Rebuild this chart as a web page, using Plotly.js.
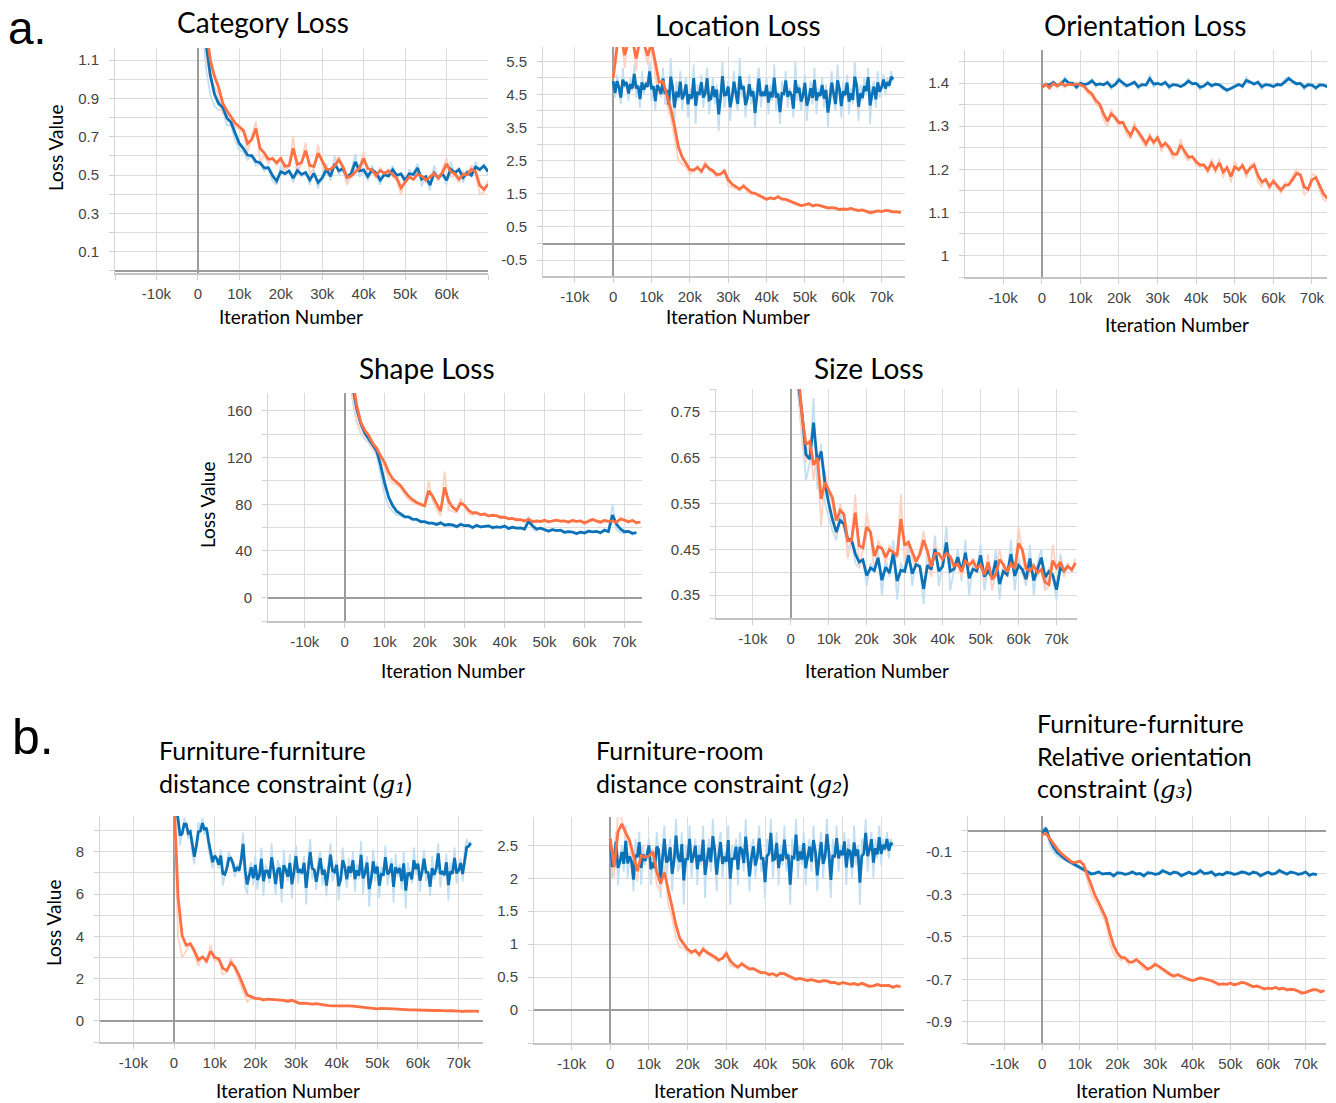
<!DOCTYPE html>
<html>
<head>
<meta charset="utf-8">
<script src="https://cdn.plot.ly/plotly-3.0.1.min.js"></script>
<style>html,body{margin:0;padding:0;background:#fff;}#chart{width:1336px;height:1103px;}</style>
</head>
<body>
<div id="chart"></div>
<script>
// ---------------- DATA ----------------
// most series hold one value every STEP iterations; the noisiest blue runs every FINE_STEP iterations
const STEP = 1000;
const FINE_STEP = 500;
const SMOOTHING = 0.4;

const xTickVals = [-10000, 0, 10000, 20000, 30000, 40000, 50000, 60000, 70000];
const xTickText = ['-10k', '0', '10k', '20k', '30k', '40k', '50k', '60k', '70k'];

// a. Category Loss (STEP)
const catBlue = [1.70,1.30,1.05,0.92,0.86,0.84,0.84,0.76,0.76,0.68,0.63,0.62,0.58,0.60,0.55,0.56,0.52,0.54,0.47,0.45,0.55,0.50,0.53,0.46,0.55,0.49,0.52,0.45,0.53,0.43,0.50,0.56,0.47,0.60,0.50,0.54,0.46,0.52,0.61,0.49,0.53,0.47,0.55,0.50,0.45,0.52,0.49,0.55,0.48,0.51,0.45,0.53,0.50,0.56,0.44,0.50,0.42,0.55,0.47,0.52,0.45,0.57,0.50,0.54,0.46,0.53,0.49,0.57,0.52,0.56,0.50];
const catOrange = [1.80,1.40,1.12,1.00,0.96,0.92,0.82,0.81,0.78,0.75,0.74,0.72,0.62,0.70,0.78,0.57,0.60,0.56,0.59,0.55,0.60,0.52,0.55,0.70,0.50,0.57,0.67,0.50,0.54,0.66,0.55,0.50,0.53,0.56,0.60,0.52,0.45,0.50,0.53,0.55,0.62,0.50,0.52,0.48,0.54,0.50,0.53,0.49,0.47,0.40,0.48,0.51,0.47,0.52,0.49,0.46,0.50,0.52,0.47,0.53,0.59,0.49,0.50,0.46,0.52,0.50,0.55,0.51,0.40,0.41,0.47];
const catYTicks = [0.1, 0.3, 0.5, 0.7, 0.9, 1.1];
const catYText = ['0.1', '0.3', '0.5', '0.7', '0.9', '1.1'];

// a. Location Loss (blue: FINE_STEP, orange: STEP)
const locBlue = [4.9,4.4,5.1,4.6,4.2,5.3,4.7,4.9,4.3,5.0, 4.6,5.4,4.4,4.8,4.1,5.2,4.5,4.9,4.7,5.5, 4.3,4.8,4.0,5.1,4.6,4.4,5.3,4.2,4.7,3.9, 5.6,4.5,3.7,4.9,4.3,5.2,4.0,4.6,5.0,3.8, 4.7,4.3,5.4,3.6,4.8,4.5,5.1,4.1,4.6,5.3, 3.9,4.4,5.0,4.2,4.8,3.4,4.7,5.5,4.1,4.5, 4.9,3.7,4.6,5.2,4.3,4.0,5.6,4.4,4.8,3.8, 4.5,5.1,4.2,4.7,3.5,4.9,5.3,4.1,4.6,4.4, 5.0,3.9,4.8,4.3,5.4,4.0,4.6,3.6,4.9,4.5, 5.2,4.1,4.7,4.4,3.8,5.5,4.3,4.8,4.0,4.6, 5.1,3.7,4.5,4.9,4.2,5.3,3.9,4.7,4.4,5.0, 4.1,4.8,3.5,4.6,5.2,4.3,4.0,5.4,4.5,3.8, 4.9,4.4,5.1,3.9,4.7,4.2,5.5,4.6,3.7,4.8, 4.3,5.0,4.5,5.3,3.6,4.7,4.9,4.1,5.2,4.4, 4.8,5.1,4.5,5.0,4.7,5.2,4.9];
const locOrange = [5.0,6.3,6.5,5.3,6.4,6.2,5.2,6.5,6.0,5.4,6.3,5.0,4.5,4.9,4.2,3.8,3.2,2.5,2.4,2.3,2.1,2.2,2.35,2.1,2.5,2.2,2.15,2.0,2.1,2.25,1.75,1.7,1.65,1.6,1.8,1.55,1.48,1.5,1.42,1.35,1.3,1.4,1.33,1.45,1.3,1.32,1.25,1.2,1.15,1.12,1.18,1.22,1.1,1.18,1.13,1.1,1.05,1.08,1.06,1.0,1.05,1.02,1.08,1.0,0.98,1.03,0.95,0.9,0.97,1.0,0.95,1.02,0.98,0.93,0.96,0.92];
const locYTicks = [-0.5, 0.5, 1.5, 2.5, 3.5, 4.5, 5.5];
const locYText = ['-0.5', '0.5', '1.5', '2.5', '3.5', '4.5', '5.5'];

// a. Orientation Loss (STEP)
const oriBlue = [1.39,1.40,1.395,1.405,1.39,1.40,1.415,1.395,1.40,1.385,1.405,1.395,1.40,1.41,1.39,1.40,1.395,1.405,1.385,1.40,1.415,1.395,1.39,1.40,1.405,1.385,1.40,1.395,1.42,1.39,1.40,1.395,1.405,1.385,1.40,1.395,1.39,1.40,1.41,1.395,1.40,1.385,1.395,1.405,1.39,1.40,1.395,1.385,1.38,1.39,1.395,1.40,1.39,1.415,1.40,1.395,1.405,1.385,1.40,1.395,1.39,1.40,1.395,1.41,1.415,1.40,1.395,1.40,1.385,1.40,1.395,1.385,1.40,1.395,1.39];
const oriOrange = [1.39,1.40,1.385,1.405,1.39,1.405,1.39,1.40,1.395,1.40,1.395,1.39,1.375,1.37,1.35,1.345,1.315,1.30,1.34,1.315,1.30,1.31,1.28,1.27,1.31,1.28,1.265,1.25,1.285,1.255,1.28,1.24,1.265,1.245,1.225,1.235,1.27,1.23,1.22,1.23,1.21,1.205,1.21,1.19,1.225,1.19,1.225,1.18,1.21,1.17,1.22,1.195,1.215,1.18,1.21,1.215,1.17,1.16,1.18,1.15,1.18,1.155,1.145,1.17,1.165,1.185,1.20,1.185,1.14,1.15,1.19,1.185,1.15,1.13,1.125];
const oriYTicks = [1.0, 1.1, 1.2, 1.3, 1.4];
const oriYText = ['1', '1.1', '1.2', '1.3', '1.4'];

// a. Shape Loss (STEP)
const shapeBlue = [230,195,168,150,141,136,133,128,122,105,88,78,74,71,70,68,69,66,67,64,65,63,64,62,65,61,63,62,60,64,61,62,59,63,60,61,62,59,61,60,62,58,61,59,60,58,70,59,57,60,58,56,59,57,58,55,57,56,54,57,55,58,56,57,55,59,56,80,58,56,55,57,54,56];
const shapeOrange = [235,200,172,152,141,139,136,128,125,117,112,102,98,97,94,88,84,82,80,79,78,100,84,76,70,108,75,74,73,85,78,72,71,73,70,72,69,71,70,68,69,67,68,66,67,65,68,64,66,65,67,64,66,67,65,66,64,67,65,66,63,66,68,65,64,67,65,66,64,69,66,64,67,63,65];
const shapeYTicks = [0, 40, 80, 120, 160];
const shapeYText = ['0', '40', '80', '120', '160'];

// a. Size Loss (STEP)
const sizeBlue = [0.95,0.85,0.78,0.70,0.60,0.64,0.78,0.58,0.68,0.55,0.52,0.49,0.47,0.53,0.50,0.45,0.47,0.42,0.41,0.43,0.37,0.42,0.40,0.45,0.35,0.43,0.39,0.47,0.34,0.42,0.40,0.46,0.37,0.43,0.41,0.33,0.45,0.40,0.48,0.37,0.42,0.50,0.36,0.41,0.45,0.38,0.47,0.35,0.42,0.40,0.46,0.36,0.41,0.38,0.45,0.34,0.42,0.39,0.47,0.36,0.43,0.40,0.37,0.46,0.35,0.42,0.45,0.36,0.41,0.39,0.34,0.44,0.40,0.42];
const sizeOrange = [0.97,0.86,0.80,0.68,0.64,0.69,0.60,0.66,0.50,0.62,0.57,0.55,0.48,0.55,0.52,0.43,0.47,0.57,0.41,0.45,0.53,0.48,0.40,0.47,0.45,0.42,0.46,0.44,0.43,0.57,0.42,0.47,0.43,0.41,0.45,0.49,0.43,0.39,0.46,0.44,0.42,0.45,0.43,0.40,0.42,0.39,0.44,0.41,0.43,0.40,0.42,0.38,0.44,0.36,0.40,0.45,0.41,0.39,0.43,0.40,0.50,0.44,0.38,0.40,0.42,0.39,0.41,0.36,0.37,0.46,0.40,0.43,0.39,0.42,0.40,0.43];
const sizeYTicks = [0.35, 0.45, 0.55, 0.65, 0.75];
const sizeYText = ['0.35', '0.45', '0.55', '0.65', '0.75'];

// b. Furniture-furniture distance constraint g1 (blue: FINE_STEP, orange: STEP)
const g1Blue = [10.5,10.0,9.2,8.3,8.9,9.6,9.3,8.6,9.0,7.9, 7.4,8.6,9.4,9.0,9.6,8.8,9.2,8.1,7.6,7.2, 8.0,7.6,7.2,8.1,6.4,6.9,7.4,8.0,7.7,7.3, 6.8,7.4,7.0,7.9,8.9,6.3,6.0,7.2,7.5,6.4, 7.8,6.2,7.0,8.2,5.9,7.4,7.1,6.5,8.4,6.8, 6.0,7.6,7.3,5.6,8.1,7.0,6.6,7.9,5.8,7.4, 8.3,6.5,7.2,6.9,7.8,5.5,7.6,8.6,6.7,7.1, 6.2,7.7,8.0,6.4,7.3,5.9,7.5,8.4,6.6,7.0, 7.6,5.7,6.9,8.2,7.1,6.3,7.7,6.8,8.0,6.1, 7.4,6.7,8.5,6.0,7.2,7.8,5.4,7.0,8.1,6.6, 7.5,5.8,7.3,6.9,8.3,6.4,7.1,7.7,5.6,7.9, 6.8,7.4,6.2,8.0,5.3,7.5,7.0,6.5,8.2,6.9, 7.6,6.1,7.3,8.1,6.6,7.0,5.9,7.8,6.7,7.4, 8.4,6.3,7.1,6.8,7.9,5.7,7.5,6.9,8.2,6.5, 7.2,7.7,6.6,8.1,8.6,8.3,8.5];
const g1Orange = [10.5,4.0,3.0,3.3,3.7,3.1,2.6,3.1,2.7,3.6,2.8,2.9,2.2,2.3,3.0,2.4,1.9,1.4,0.9,1.1,1.0,1.05,0.95,1.05,1.0,0.98,1.02,0.95,0.9,1.0,0.85,0.78,0.85,0.8,0.78,0.82,0.74,0.72,0.7,0.7,0.72,0.68,0.7,0.72,0.68,0.66,0.64,0.65,0.6,0.58,0.55,0.6,0.56,0.54,0.58,0.55,0.52,0.55,0.5,0.52,0.5,0.49,0.53,0.5,0.48,0.5,0.47,0.46,0.5,0.45,0.47,0.44,0.46,0.43,0.47,0.45];
const g1YTicks = [0, 2, 4, 6, 8];
const g1YText = ['0', '2', '4', '6', '8'];

// b. Furniture-room distance constraint g2 (blue: FINE_STEP, orange: STEP)
const g2Blue = [2.6,2.0,2.4,2.7,1.9,2.3,2.5,2.1,2.8,2.0, 2.4,2.2,1.8,2.6,2.3,2.7,1.9,2.5,2.2,2.4, 2.6,1.9,2.3,2.1,2.7,2.4,1.7,2.5,2.8,2.0, 2.3,2.6,1.8,2.4,2.9,2.1,2.2,2.7,1.6,2.5, 2.3,2.8,2.0,2.4,2.6,1.9,2.5,2.2,2.8,1.7, 2.4,2.6,2.1,2.9,2.3,1.8,2.5,2.7,2.0,2.4, 2.2,2.8,1.6,2.5,2.3,2.6,1.9,2.7,2.4,2.1, 2.9,2.2,1.8,2.5,2.6,2.0,2.4,2.8,2.1,2.3, 1.7,2.6,2.4,2.9,2.0,2.3,2.7,1.9,2.5,2.2, 2.8,2.1,2.4,1.6,2.6,2.3,2.9,2.0,2.5,2.2, 2.7,1.9,2.4,2.6,2.1,2.8,2.3,1.8,2.5,2.7, 2.0,2.4,2.9,2.2,1.7,2.6,2.3,2.8,2.1,2.5, 2.3,2.7,1.9,2.6,2.4,2.0,2.8,2.2,2.5,1.6, 2.6,2.4,2.9,2.1,2.5,2.7,2.0,2.6,2.3,2.8, 2.2,2.6,2.4,2.7,2.3,2.6,2.5];
const g2Orange = [2.6,2.0,3.0,2.9,2.6,2.5,2.2,1.95,2.5,2.3,2.35,2.45,1.9,1.8,2.2,1.6,1.4,1.1,0.95,0.95,0.87,0.85,0.92,0.8,0.97,0.85,0.82,0.78,0.73,0.8,0.9,0.68,0.65,0.63,0.73,0.64,0.6,0.63,0.57,0.55,0.57,0.52,0.56,0.5,0.58,0.55,0.5,0.47,0.45,0.49,0.45,0.44,0.47,0.43,0.42,0.46,0.44,0.4,0.42,0.38,0.43,0.4,0.38,0.41,0.37,0.42,0.36,0.35,0.37,0.4,0.36,0.38,0.37,0.33,0.38,0.35];
const g2YTicks = [0, 0.5, 1, 1.5, 2, 2.5];
const g2YText = ['0', '0.5', '1', '1.5', '2', '2.5'];

// b. Furniture-furniture relative orientation constraint g3 (STEP)
const g3Blue = [-0.01,0.02,-0.07,-0.1,-0.12,-0.13,-0.14,-0.15,-0.16,-0.17,-0.18,-0.19,-0.2,-0.21,-0.2,-0.19,-0.21,-0.2,-0.2,-0.22,-0.19,-0.2,-0.21,-0.2,-0.19,-0.21,-0.2,-0.22,-0.19,-0.2,-0.21,-0.2,-0.18,-0.2,-0.21,-0.19,-0.2,-0.22,-0.2,-0.19,-0.21,-0.2,-0.18,-0.21,-0.2,-0.19,-0.22,-0.2,-0.21,-0.19,-0.2,-0.21,-0.2,-0.19,-0.2,-0.21,-0.19,-0.2,-0.22,-0.2,-0.19,-0.21,-0.2,-0.18,-0.2,-0.21,-0.19,-0.2,-0.21,-0.2,-0.19,-0.22,-0.2,-0.21];
const g3Orange = [-0.02,-0.01,-0.05,-0.08,-0.1,-0.12,-0.13,-0.14,-0.16,-0.15,-0.14,-0.17,-0.24,-0.3,-0.33,-0.36,-0.4,-0.44,-0.53,-0.58,-0.6,-0.61,-0.6,-0.63,-0.62,-0.6,-0.63,-0.65,-0.66,-0.64,-0.62,-0.645,-0.66,-0.67,-0.685,-0.69,-0.675,-0.69,-0.7,-0.705,-0.71,-0.695,-0.69,-0.7,-0.705,-0.71,-0.72,-0.73,-0.72,-0.725,-0.715,-0.73,-0.72,-0.71,-0.72,-0.73,-0.74,-0.73,-0.74,-0.75,-0.74,-0.745,-0.735,-0.75,-0.74,-0.755,-0.745,-0.75,-0.76,-0.77,-0.76,-0.75,-0.745,-0.75,-0.765,-0.75];
const g3YTicks = [-0.9, -0.7, -0.5, -0.3, -0.1];
const g3YText = ['-0.9', '-0.7', '-0.5', '-0.3', '-0.1'];

// ---------------- LAYOUT / STYLE ----------------
const W = 1336, H = 1103;
const DARK_BLUE = '#0b72b8', LIGHT_BLUE = '#c4dff1';
const DARK_ORANGE = '#ff7043', LIGHT_ORANGE = '#ffd3c4';
const TICK_FONT = {family: 'Liberation Sans, Arial, sans-serif', size: 15, color: '#444'};
const TEXT_FONT = 'Lato, Calibri, sans-serif';

const panels = [
  {blue: catBlue, bStep: STEP, orange: catOrange, yt: catYTicks, ytx: catYText, box: [115, 488, 48, 273], xr: [-20000, 70000], yr: [-0.011, 1.163], minor: 0.1, xlast: 60000},
  {blue: locBlue, bStep: FINE_STEP, orange: locOrange, yt: locYTicks, ytx: locYText, box: [543, 905, 47, 276], xr: [-18300, 76100], yr: [-0.98, 5.93], minor: 0.5},
  {blue: oriBlue, bStep: STEP, orange: oriOrange, yt: oriYTicks, ytx: oriYText, box: [965, 1327, 50, 277], xr: [-19900, 73900], yr: [0.95, 1.477], minor: 0.05},
  {blue: shapeBlue, bStep: STEP, orange: shapeOrange, yt: shapeYTicks, ytx: shapeYText, box: [268, 642, 393, 621], xr: [-19200, 74400], yr: [-20, 175.4], minor: 20},
  {blue: sizeBlue, bStep: STEP, orange: sizeOrange, yt: sizeYTicks, ytx: sizeYText, box: [716, 1077, 389, 618], xr: [-19700, 75400], yr: [0.30, 0.80], minor: 0.05},
  {blue: g1Blue, bStep: FINE_STEP, orange: g1Orange, yt: g1YTicks, ytx: g1YText, box: [100, 483, 816, 1042], xr: [-18200, 76000], yr: [-1, 9.69], minor: 1},
  {blue: g2Blue, bStep: FINE_STEP, orange: g2Orange, yt: g2YTicks, ytx: g2YText, box: [534, 904, 817, 1043], xr: [-19700, 75900], yr: [-0.5, 2.93], minor: 0.5},
  {blue: g3Blue, bStep: STEP, orange: g3Orange, yt: g3YTicks, ytx: g3YText, box: [968, 1326, 816, 1043], xr: [-19700, 75400], yr: [-1.0, 0.069], minor: 0.1}
];

function smooth(vals, w) {
  let last = 0; const out = [];
  for (let i = 0; i < vals.length; i++) {
    last = last * w + (1 - w) * vals[i];
    out.push(last / (1 - Math.pow(w, i + 1)));
  }
  return out;
}
function iters(vals, step) { return vals.map((_, i) => i * step); }

const traces = [];
const layout = {
  width: W, height: H, margin: {l: 0, r: 0, t: 0, b: 0},
  paper_bgcolor: '#fff', plot_bgcolor: '#fff', showlegend: false,
  annotations: []
};

panels.forEach((p, k) => {
  const n = k + 1;
  const xa = 'x' + (n === 1 ? '' : n), ya = 'y' + (n === 1 ? '' : n);
  const xkey = 'xaxis' + (n === 1 ? '' : n), ykey = 'yaxis' + (n === 1 ? '' : n);
  const series = [[p.blue, p.bStep, LIGHT_BLUE, DARK_BLUE], [p.orange, STEP, LIGHT_ORANGE, DARK_ORANGE]];
  series.forEach(([vals, step, light]) => {
    traces.push({x: iters(vals, step), y: vals, xaxis: xa, yaxis: ya, type: 'scatter', mode: 'lines',
      line: {color: light, width: 1.8}, hoverinfo: 'skip'});
  });
  series.forEach(([vals, step, light, dark]) => {
    traces.push({x: iters(vals, step), y: smooth(vals, SMOOTHING), xaxis: xa, yaxis: ya, type: 'scatter', mode: 'lines',
      line: {color: dark, width: 2.8}, hoverinfo: 'skip'});
  });
  const [l, r, t, b] = p.box;
  const keep = xTickVals.map((v) => !p.xlast || v <= p.xlast);
  layout[xkey] = {
    domain: [l / W, r / W], anchor: ya, range: p.xr, fixedrange: true,
    tickmode: 'array', tickvals: xTickVals.filter((v, i) => keep[i]), ticktext: xTickText.filter((v, i) => keep[i]),
    tickfont: TICK_FONT,
    showgrid: true, gridcolor: '#dcdcdc', gridwidth: 1,
    minor: {tick0: 0, dtick: 10000, showgrid: true, gridcolor: '#dcdcdc', gridwidth: 1, ticks: 'outside', ticklen: 5, tickcolor: '#d0d0d0'},
    zeroline: true, zerolinecolor: '#9c9c9c', zerolinewidth: 2,
    showline: true, linecolor: '#c4c4c4', linewidth: 2,
    ticks: 'outside', ticklen: 5, tickcolor: '#d0d0d0', ticklabelstandoff: 1
  };
  layout[ykey] = {
    domain: [1 - b / H, 1 - t / H], anchor: xa, range: p.yr, fixedrange: true,
    tickmode: 'array', tickvals: p.yt, ticktext: p.ytx, tickfont: TICK_FONT,
    showgrid: true, gridcolor: '#dcdcdc', gridwidth: 1,
    minor: {tick0: 0, dtick: p.minor, showgrid: true, gridcolor: '#dcdcdc', gridwidth: 1, ticks: 'outside', ticklen: 5, tickcolor: '#d0d0d0'},
    zeroline: true, zerolinecolor: '#9c9c9c', zerolinewidth: 2,
    showline: true, linecolor: '#d4d4d4', linewidth: 1,
    ticks: 'outside', ticklen: 5, tickcolor: '#d0d0d0', ticklabelstandoff: 7
  };
});

function ann(text, px, py, opts) {
  layout.annotations.push(Object.assign({
    text: text, xref: 'paper', yref: 'paper', x: px / W, y: 1 - py / H,
    xanchor: 'center', yanchor: 'middle', showarrow: false,
    font: {family: TEXT_FONT, size: 28, color: '#000'}
  }, opts || {}));
}
const SUBS = ['', '\u2081', '\u2082', '\u2083'];
const G = (i) => '(<i style="font-family:\'DejaVu Serif\', serif">g' + SUBS[i] + '</i>)';

// panel letters
ann('a.', 6, 0, {xanchor: 'left', yanchor: 'top', font: {family: 'Liberation Sans, Arial, sans-serif', size: 46, color: '#000'}});
ann('b.', 10, 737, {xanchor: 'left', font: {family: 'Liberation Sans, Arial, sans-serif', size: 50, color: '#000'}});
// panel titles
ann('Category Loss', 263, 22);
ann('Location Loss', 738, 25);
ann('Orientation Loss', 1145, 25);
ann('Shape Loss', 427, 368);
ann('Size Loss', 869, 368);
const GT = {family: TEXT_FONT, size: 25, color: '#000'};
ann('Furniture-furniture<br>distance constraint ' + G(1), 157, 767, {xanchor: 'left', align: 'left', font: GT});
ann('Furniture-room<br>distance constraint ' + G(2), 594, 767, {xanchor: 'left', align: 'left', font: GT});
ann('Furniture-furniture<br>Relative orientation<br>constraint ' + G(3), 1035, 756, {xanchor: 'left', align: 'left', font: GT});
// x axis titles
const XT = {family: TEXT_FONT, size: 19, color: '#000'};
[[291, 317], [738, 316], [1177, 324], [453, 670], [877, 670], [288, 1090], [726, 1090], [1148, 1090]].forEach(([x, y]) => ann('Iteration Number', x, y, {font: XT}));
// y axis titles
[[55, 148], [208, 505], [53, 923]].forEach(([x, y]) => ann('Loss Value', x, y, {font: XT, textangle: -90}));

Plotly.newPlot('chart', traces, layout, {displayModeBar: false, staticPlot: true});
</script>
</body>
</html>
